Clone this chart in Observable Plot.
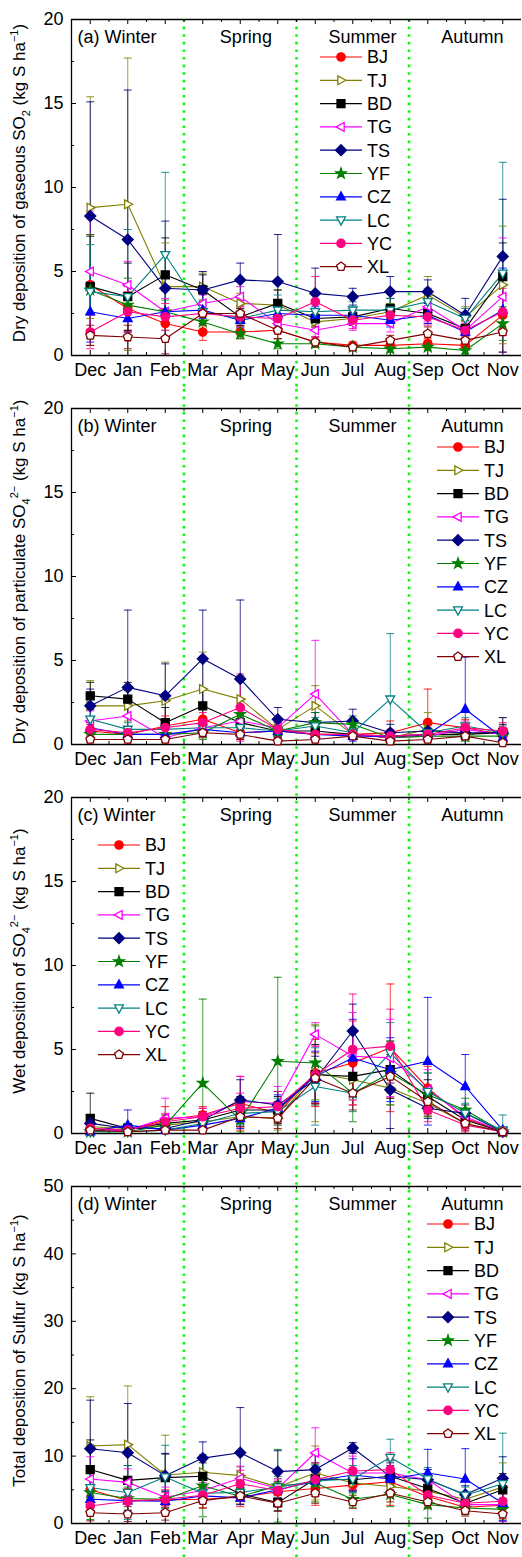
<!DOCTYPE html>
<html>
<head>
<meta charset="utf-8">
<script src="https://cdn.jsdelivr.net/npm/d3@7"></script>
<script src="https://cdn.jsdelivr.net/npm/@observablehq/plot@0.6"></script>
<style>
  html, body { margin: 0; padding: 0; background: white; }
  #chart > * { display: block; }
</style>
</head>
<body>
<div id="chart"></div>
<script>
// ---------- categories ----------
const months = ["Dec","Jan","Feb","Mar","Apr","May","Jun","Jul","Aug","Sep","Oct","Nov"];
const stations = ["BJ","TJ","BD","TG","TS","YF","CZ","LC","YC","XL"];
const seasons = ["Spring","Summer","Autumn"];

// ---------- (a) dry deposition of gaseous SO2 : mean and SD ----------
const gasBJ = [4.2, 2.8, 1.9, 1.4, 1.4, 1.5, 0.8, 0.6, 0.6, 0.7, 0.6, 2.4];
const gasBJsd = [3.0, 1.3, 0.9, 0.5, 0.4, 0.5, 0.3, 0.2, 0.2, 0.3, 0.3, 1.2];
const gasTJ = [8.8, 9.0, 4.1, 4.1, 3.1, 3.0, 2.0, 2.2, 2.6, 3.6, 2.3, 4.2];
const gasTJsd = [6.6, 8.7, 2.6, 0.8, 0.6, 0.9, 0.5, 0.4, 0.5, 1.1, 0.6, 3.5];
const gasBD = [4.1, 3.5, 4.8, 3.9, 2.3, 3.1, 2.2, 2.3, 2.8, 2.5, 1.6, 4.7];
const gasBDsd = [3.0, 2.0, 2.2, 0.9, 0.5, 0.8, 0.5, 0.5, 0.6, 0.6, 0.5, 2.0];
const gasTG = [5.0, 4.2, 2.6, 3.1, 3.5, 1.9, 1.5, 1.9, 1.9, 2.9, 1.5, 3.5];
const gasTGsd = [3.6, 1.4, 0.8, 0.5, 0.6, 0.5, 0.4, 0.4, 0.5, 0.9, 0.5, 3.5];
const gasTS = [8.3, 6.9, 4.0, 3.9, 4.5, 4.4, 3.7, 3.5, 3.8, 3.8, 2.4, 5.9];
const gasTSsd = [6.8, 8.9, 4.0, 1.1, 1.0, 2.8, 1.5, 0.5, 0.9, 0.7, 1.0, 3.4];
const gasYF = [3.9, 3.0, 2.6, 2.0, 1.3, 0.7, 0.7, 0.5, 0.4, 0.5, 0.3, 1.9];
const gasYFsd = [3.3, 1.6, 0.7, 0.5, 0.3, 0.3, 0.2, 0.2, 0.2, 0.2, 0.2, 1.0];
const gasCZ = [2.6, 2.2, 2.6, 2.7, 2.1, 2.5, 2.4, 2.4, 2.1, 2.4, 1.4, 2.7];
const gasCZsd = [1.8, 0.8, 1.5, 0.5, 0.4, 0.7, 0.5, 0.4, 0.4, 0.5, 0.4, 2.5];
const gasLC = [3.8, 3.5, 6.0, 2.6, 2.2, 2.7, 2.6, 2.7, 2.7, 3.2, 2.2, 4.9];
const gasLCsd = [2.8, 4.0, 4.9, 0.7, 0.5, 0.9, 0.6, 0.5, 0.7, 0.8, 0.6, 6.6];
const gasYC = [1.4, 2.6, 2.3, 2.5, 2.3, 2.2, 3.2, 2.1, 2.4, 2.3, 1.5, 2.6];
const gasYCsd = [1.0, 1.2, 0.8, 0.7, 0.6, 0.7, 1.5, 0.5, 0.6, 0.5, 0.4, 1.4];
const gasXL = [1.2, 1.1, 1.0, 2.5, 2.5, 1.5, 0.8, 0.5, 0.9, 1.3, 0.9, 1.4];
const gasXLsd = [0.6, 0.7, 0.9, 0.6, 0.5, 0.5, 0.3, 0.2, 0.3, 0.4, 0.3, 1.2];

// ---------- (b) dry deposition of particulate SO4 ----------
const parBJ = [0.8, 0.6, 1.1, 1.5, 0.7, 0.8, 0.6, 0.6, 0.7, 1.3, 1.0, 0.6];
const parBJsd = [0.4, 0.3, 0.6, 0.6, 0.4, 0.3, 0.3, 0.3, 0.7, 2.0, 0.5, 0.4];
const parTJ = [2.3, 2.3, 2.6, 3.3, 2.7, 0.9, 2.3, 0.6, 0.4, 0.9, 0.6, 0.8];
const parTJsd = [1.5, 0.9, 2.3, 2.2, 1.4, 0.4, 1.2, 0.3, 0.3, 1.0, 0.3, 0.8];
const parBD = [2.9, 2.7, 1.3, 2.3, 1.3, 0.8, 0.8, 0.6, 0.4, 0.6, 0.6, 0.7];
const parBDsd = [0.8, 1.0, 0.9, 1.0, 0.6, 0.4, 0.4, 0.3, 0.2, 0.3, 0.3, 0.5];
const parTG = [1.4, 1.7, 0.4, 1.0, 1.4, 1.0, 3.0, 0.6, 0.4, 0.5, 0.9, 0.6];
const parTGsd = [0.6, 0.7, 0.3, 0.5, 0.7, 0.4, 3.2, 0.3, 0.2, 0.3, 0.4, 0.4];
const parTS = [2.3, 3.4, 2.9, 5.1, 3.9, 1.5, 1.3, 1.4, 0.7, 0.8, 0.7, 0.7];
const parTSsd = [1.0, 4.6, 1.9, 2.9, 4.7, 0.7, 0.6, 0.7, 0.5, 0.6, 0.4, 0.9];
const parYF = [0.6, 0.6, 0.6, 0.7, 1.8, 0.8, 1.3, 1.2, 0.4, 0.5, 0.5, 0.5];
const parYFsd = [0.3, 0.3, 0.3, 0.4, 0.8, 0.3, 0.6, 0.5, 0.2, 0.3, 0.3, 0.3];
const parCZ = [1.0, 0.6, 0.6, 0.9, 0.7, 0.8, 0.6, 0.5, 0.5, 0.6, 2.1, 0.4];
const parCZsd = [0.6, 0.3, 0.3, 0.4, 0.3, 0.3, 0.3, 0.3, 0.3, 0.3, 3.1, 0.3];
const parLC = [1.5, 0.9, 0.9, 1.0, 1.0, 0.8, 1.1, 0.7, 2.7, 0.7, 1.1, 0.7];
const parLCsd = [0.6, 0.4, 0.4, 0.4, 0.5, 0.3, 0.5, 0.3, 3.9, 0.3, 0.5, 0.4];
const parYC = [0.9, 0.7, 1.0, 1.3, 2.2, 0.9, 0.6, 0.6, 0.5, 0.6, 1.0, 0.8];
const parYCsd = [0.4, 0.3, 0.4, 0.6, 2.0, 0.4, 0.3, 0.3, 0.3, 0.3, 0.4, 0.5];
const parXL = [0.3, 0.3, 0.3, 0.7, 0.6, 0.2, 0.3, 0.5, 0.2, 0.3, 0.5, 0.1];
const parXLsd = [0.2, 0.2, 0.2, 0.3, 0.3, 0.2, 0.2, 0.2, 0.1, 0.2, 0.2, 0.1];

// ---------- (c) wet deposition of SO4 ----------
const wetBJ = [0.3, 0.2, 0.8, 1.1, 1.8, 1.2, 3.6, 4.2, 5.1, 2.7, 0.9, 0.1];
const wetBJsd = [0.2, 0.1, 0.8, 0.5, 1.6, 0.7, 2.0, 2.5, 3.8, 1.3, 0.6, 0.1];
const wetTJ = [0.4, 0.3, 0.5, 0.7, 1.0, 0.9, 3.6, 3.2, 2.7, 1.8, 0.6, 0.1];
const wetTJsd = [0.3, 0.3, 0.4, 0.5, 0.6, 0.7, 2.9, 1.2, 1.0, 0.8, 0.4, 0.1];
const wetBD = [0.9, 0.3, 0.6, 0.8, 1.4, 1.4, 3.5, 3.4, 3.8, 2.2, 0.8, 0.1];
const wetBDsd = [1.5, 0.3, 0.5, 0.5, 0.8, 0.8, 1.8, 1.2, 1.7, 1.0, 0.5, 0.1];
const wetTG = [0.1, 0.2, 0.9, 1.0, 1.9, 1.8, 5.9, 4.6, 4.5, 2.6, 1.0, 0.1];
const wetTGsd = [0.1, 0.2, 1.2, 0.5, 1.5, 1.0, 0.7, 2.6, 2.3, 1.2, 0.5, 0.1];
const wetTS = [0.6, 0.3, 0.3, 0.8, 2.0, 1.7, 3.2, 6.1, 2.6, 1.5, 1.2, 0.1];
const wetTSsd = [0.4, 0.2, 0.2, 0.5, 1.2, 0.8, 1.4, 1.6, 2.3, 0.6, 0.5, 0.1];
const wetYF = [0.1, 0.1, 0.5, 3.0, 0.8, 4.3, 4.2, 2.4, 3.6, 2.3, 1.4, 0.1];
const wetYFsd = [0.1, 0.1, 0.4, 5.0, 0.7, 5.0, 2.2, 1.7, 1.9, 1.3, 0.7, 0.1];
const wetCZ = [0.1, 0.5, 0.2, 0.5, 0.9, 1.5, 3.4, 4.5, 3.8, 4.3, 2.8, 0.2];
const wetCZsd = [0.1, 0.9, 0.2, 0.4, 0.6, 0.8, 1.5, 2.3, 1.9, 3.8, 1.9, 0.1];
const wetLC = [0.1, 0.1, 0.2, 0.6, 1.2, 1.3, 2.8, 2.4, 4.8, 2.5, 1.2, 0.2];
const wetLCsd = [0.1, 0.1, 0.2, 0.4, 0.7, 0.8, 2.3, 1.1, 1.8, 1.1, 0.6, 0.9];
const wetYC = [0.3, 0.2, 0.7, 1.0, 1.5, 1.6, 3.5, 5.0, 5.2, 1.4, 0.5, 0.1];
const wetYCsd = [0.2, 0.1, 0.5, 0.5, 0.9, 0.9, 1.7, 3.3, 2.2, 0.7, 0.4, 0.1];
const wetXL = [0.2, 0.1, 0.2, 0.2, 1.0, 0.9, 3.3, 2.4, 3.4, 1.9, 0.6, 0.1];
const wetXLsd = [0.1, 0.1, 0.2, 0.2, 0.6, 0.6, 1.5, 1.0, 1.3, 0.8, 0.4, 0.1];

// ---------- (d) total deposition of sulfur ----------
const totBJ = [5.0, 3.4, 3.5, 3.6, 3.9, 4.7, 5.2, 5.7, 6.2, 4.0, 2.4, 2.7];
const totBJsd = [3.5, 1.8, 1.5, 1.3, 1.4, 1.3, 2.5, 2.2, 3.5, 1.6, 0.9, 2.0];
const totTJ = [11.5, 11.7, 7.2, 7.6, 7.1, 5.4, 7.5, 6.0, 5.5, 4.8, 3.6, 5.4];
const totTJsd = [7.3, 8.7, 5.9, 2.0, 1.3, 1.3, 4.0, 1.5, 1.3, 1.6, 0.9, 3.6];
const totBD = [8.0, 6.4, 6.8, 7.0, 4.4, 3.1, 6.6, 6.5, 7.0, 5.2, 3.0, 5.0];
const totBDsd = [4.4, 2.2, 3.5, 2.0, 0.9, 1.2, 2.4, 1.6, 2.3, 1.5, 0.8, 2.4];
const totTG = [6.6, 6.1, 3.9, 4.9, 6.7, 5.2, 10.5, 7.5, 7.5, 6.5, 2.8, 2.8];
const totTGsd = [3.3, 2.0, 1.5, 1.2, 1.8, 1.4, 3.7, 2.5, 2.6, 1.5, 0.9, 2.5];
const totTS = [11.1, 10.5, 7.1, 9.7, 10.5, 7.7, 8.0, 11.2, 7.0, 6.5, 4.3, 6.7];
const totTSsd = [7.2, 7.3, 3.3, 2.4, 6.7, 3.1, 2.3, 0.8, 2.0, 1.5, 1.3, 3.2];
const totYF = [4.6, 3.7, 3.6, 5.6, 4.0, 5.6, 6.0, 3.6, 4.3, 2.8, 2.3, 2.1];
const totYFsd = [4.0, 1.7, 1.2, 4.6, 1.2, 5.4, 2.8, 1.2, 1.8, 2.0, 1.0, 1.6];
const totCZ = [3.6, 3.4, 3.3, 4.1, 3.8, 5.0, 6.3, 7.2, 6.6, 7.5, 6.6, 3.0];
const totCZsd = [2.0, 1.5, 1.5, 1.0, 1.0, 1.2, 2.0, 2.4, 2.0, 3.5, 4.5, 2.6];
const totLC = [5.3, 4.6, 6.9, 4.5, 4.6, 5.4, 6.3, 6.6, 9.8, 6.6, 4.2, 5.9];
const totLCsd = [3.3, 4.0, 4.7, 1.2, 1.1, 1.6, 2.3, 2.0, 2.7, 1.7, 1.2, 7.5];
const totYC = [2.6, 3.3, 3.6, 4.2, 5.9, 4.9, 6.5, 7.8, 8.0, 4.2, 3.0, 3.3];
const totYCsd = [1.5, 1.6, 1.0, 1.2, 2.0, 1.4, 2.5, 2.8, 2.5, 1.2, 0.9, 2.0];
const totXL = [1.6, 1.4, 1.6, 3.4, 4.1, 3.0, 4.5, 3.2, 4.5, 3.2, 1.9, 1.4];
const totXLsd = [1.2, 1.1, 1.1, 1.1, 1.2, 1.2, 1.5, 1.0, 1.3, 1.0, 0.8, 1.4];

// ---------- styles ----------
const colors = {BJ:"#ff0000", TJ:"#808000", BD:"#000000", TG:"#ff00ff", TS:"#000080",
                YF:"#008000", CZ:"#0000ff", LC:"#008080", YC:"#ff0080", XL:"#800000"};
const openMarker = {TJ:true, TG:true, LC:true, XL:true};

const rad = s => Math.sqrt(s / Math.PI);
const poly = (pts) => ({draw(c, s) { const r = rad(s); pts.forEach(([x, y], i) => i ? c.lineTo(x * r, y * r) : c.moveTo(x * r, y * r)); c.closePath(); }});
const starPts = d3.range(10).map(i => {
  const a = -Math.PI / 2 + i * Math.PI / 5, rr = i % 2 ? 0.5 : 1.3;
  return [rr * Math.cos(a), rr * Math.sin(a)];
});
const symbols = {
  BJ: {draw(c, s) { const r = rad(s); c.moveTo(r, 0); c.arc(0, 0, r, 0, 2 * Math.PI); }},
  TJ: poly([[1.15, 0], [-0.75, -1.05], [-0.75, 1.05]]),
  BD: poly([[-0.95, -0.95], [0.95, -0.95], [0.95, 0.95], [-0.95, 0.95]]),
  TG: poly([[-1.15, 0], [0.75, -1.05], [0.75, 1.05]]),
  TS: poly([[0, -1.3], [1.3, 0], [0, 1.3], [-1.3, 0]]),
  YF: poly(starPts),
  CZ: poly([[0, -1.2], [1.05, 0.75], [-1.05, 0.75]]),
  LC: poly([[0, 1.2], [1.05, -0.75], [-1.05, -0.75]]),
  YC: {draw(c, s) { const r = rad(s); c.moveTo(r, 0); c.arc(0, 0, r, 0, 2 * Math.PI); }},
  XL: poly(d3.range(5).map(i => { const a = -Math.PI / 2 + i * 2 * Math.PI / 5; return [1.1 * Math.cos(a), 1.1 * Math.sin(a)]; }))
};

// ---------- layout ----------
const W = 522, ML = 71, MR = 1, MT = 19, MB = 34;
const FONT = "'Liberation Sans', Arial, Helvetica, sans-serif";
const seasonX = {Spring: 4.15, Summer: 7.26, Autumn: 10.19};

const panels = [
  {tag: "(a)", height: 389, ymax: 20, major: 5, minor: 2.5,
   vals: {BJ:gasBJ,TJ:gasTJ,BD:gasBD,TG:gasTG,TS:gasTS,YF:gasYF,CZ:gasCZ,LC:gasLC,YC:gasYC,XL:gasXL},
   sds: {BJ:gasBJsd,TJ:gasTJsd,BD:gasBDsd,TG:gasTGsd,TS:gasTSsd,YF:gasYFsd,CZ:gasCZsd,LC:gasLCsd,YC:gasYCsd,XL:gasXLsd},
   title: [["Dry deposition of gaseous SO"], ["2", "sub"], [" (kg S ha"], ["\u22121", "sup"], [")"]],
   legend: [320, 57], first: true},
  {tag: "(b)", height: 389, ymax: 20, major: 5, minor: 2.5,
   vals: {BJ:parBJ,TJ:parTJ,BD:parBD,TG:parTG,TS:parTS,YF:parYF,CZ:parCZ,LC:parLC,YC:parYC,XL:parXL},
   sds: {BJ:parBJsd,TJ:parTJsd,BD:parBDsd,TG:parTGsd,TS:parTSsd,YF:parYFsd,CZ:parCZsd,LC:parLCsd,YC:parYCsd,XL:parXLsd},
   title: [["Dry deposition of particulate SO"], ["4", "sub"], ["2\u2212", "sup"], [" (kg S ha"], ["\u22121", "sup"], [")"]],
   legend: [437, 58]},
  {tag: "(c)", height: 389, ymax: 20, major: 5, minor: 2.5,
   vals: {BJ:wetBJ,TJ:wetTJ,BD:wetBD,TG:wetTG,TS:wetTS,YF:wetYF,CZ:wetCZ,LC:wetLC,YC:wetYC,XL:wetXL},
   sds: {BJ:wetBJsd,TJ:wetTJsd,BD:wetBDsd,TG:wetTGsd,TS:wetTSsd,YF:wetYFsd,CZ:wetCZsd,LC:wetLCsd,YC:wetYCsd,XL:wetXLsd},
   title: [["Wet deposition of SO"], ["4", "sub"], ["2\u2212", "sup"], [" (kg S ha"], ["\u22121", "sup"], [")"]],
   legend: [98, 67]},
  {tag: "(d)", height: 390, ymax: 50, major: 10, minor: 5,
   vals: {BJ:totBJ,TJ:totTJ,BD:totBD,TG:totTG,TS:totTS,YF:totYF,CZ:totCZ,LC:totLC,YC:totYC,XL:totXL},
   sds: {BJ:totBJsd,TJ:totTJsd,BD:totBDsd,TG:totTGsd,TS:totTSsd,YF:totYFsd,CZ:totCZsd,LC:totLCsd,YC:totYCsd,XL:totXLsd},
   title: [["Total deposition of Sulfur (kg S ha"], ["\u22121", "sup"], [")"]],
   legend: [427, 57]}
];

function legendMark(pos) {
  return (index, scales, values, dims) => {
    const g = d3.create("svg:g");
    const [lx, ly] = pos;
    stations.forEach((s, i) => {
      const y = ly + i * 23.3;
      g.append("line").attr("x1", lx).attr("x2", lx + 42).attr("y1", y).attr("y2", y)
        .attr("stroke", colors[s]).attr("stroke-width", 1.2);
      g.append("path").attr("d", d3.symbol(symbols[s], Math.PI * 4.2 * 4.2)())
        .attr("transform", `translate(${lx + 21},${y})`)
        .attr("fill", openMarker[s] ? "white" : colors[s]).attr("stroke", colors[s]).attr("stroke-width", 1.3);
      g.append("text").attr("x", lx + 47).attr("y", y).attr("dy", "0.36em")
        .attr("text-anchor", "start")
        .attr("font-size", 18).attr("font-family", FONT).attr("fill", "black").text(s);
    });
    return g.node();
  };
}

function titleMark(parts) {
  return (index, scales, values, dims) => {
    const cy = dims.marginTop + (dims.height - dims.marginTop - dims.marginBottom) / 2 - 4;
    const t = d3.create("svg:text")
      .attr("transform", `translate(25,${cy}) rotate(-90)`)
      .attr("text-anchor", "middle").attr("font-size", 17).attr("font-family", FONT).attr("fill", "black");
    let shift = 0;
    parts.forEach(([txt, kind]) => {
      const target = kind === "sub" ? 5 : kind === "sup" ? -7 : 0;
      const ts = t.append("tspan").attr("dy", target - shift).text(txt);
      if (kind) ts.attr("font-size", 11);
      shift = target;
    });
    return t.node();
  };
}

const chart = document.getElementById("chart");
panels.forEach(p => {
  const H = p.height;
  const frameH = H - MT - MB, frameW = W - ML - MR;
  const ky = p.ymax / frameH, kx = 12 / frameW;
  const rows = [];
  stations.forEach(s => months.forEach((mo, m) => {
    rows.push({s, m, v: p.vals[s][m], e: p.sds[s][m], c: colors[s]});
  }));
  const monthIdx = d3.range(12);
  const halfIdx = d3.range(11).map(i => i + 0.5);
  const yMajor = d3.range(0, p.ymax + 0.001, p.major);
  const yMinor = d3.range(p.minor, p.ymax, p.major);
  const topY = p.first ? p.ymax : p.ymax + MT * ky;
  const botY = -MB * ky;
  const cap = 4 * kx;

  const marks = [
    Plot.ruleX([2.5, 5.5, 8.5], {x: d => d, y1: topY, y2: botY, stroke: "#00ff00", strokeWidth: 2.6, strokeDasharray: "2.6,5"}),
    Plot.ruleY([0, p.ymax], {stroke: "black", strokeWidth: 1.3}),
    Plot.ruleX([-0.5], {stroke: "black", strokeWidth: 1.3}),
    Plot.ruleX(monthIdx, {x: d => d, y1: 0, y2: 5 * ky, stroke: "black"}),
    Plot.ruleX(halfIdx, {x: d => d, y1: 0, y2: 3 * ky, stroke: "black"}),
    Plot.ruleX(monthIdx, {x: d => d, y1: p.ymax, y2: p.ymax - 5 * ky, stroke: "black"}),
    Plot.ruleX(halfIdx, {x: d => d, y1: p.ymax, y2: p.ymax - 3 * ky, stroke: "black"}),
    Plot.ruleY(yMajor, {y: d => d, x1: -0.5, x2: -0.5 + 5 * kx, stroke: "black"}),
    Plot.ruleY(yMinor, {y: d => d, x1: -0.5, x2: -0.5 + 3 * kx, stroke: "black"}),
    Plot.axisX(monthIdx, {tickFormat: i => months[i], tickSize: 0, tickPadding: 8, fontSize: 18, label: null}),
    Plot.axisY(yMajor, {tickSize: 0, tickPadding: 8, fontSize: 18, label: null}),
    Plot.ruleX(rows, {x: "m", y1: d => Math.max(0, d.v - d.e), y2: d => d.v + d.e, stroke: "c", strokeOpacity: 0.75}),
    Plot.link(rows, {x1: d => d.m - cap, x2: d => d.m + cap, y1: d => d.v + d.e, y2: d => d.v + d.e, stroke: "c", strokeOpacity: 0.85}),
    Plot.link(rows.filter(d => d.v - d.e > 0), {x1: d => d.m - cap, x2: d => d.m + cap, y1: d => d.v - d.e, y2: d => d.v - d.e, stroke: "c", strokeOpacity: 0.85}),
    Plot.line(rows, {x: "m", y: "v", z: "s", stroke: "c", strokeWidth: 1.1}),
    ...stations.map(s => Plot.dot(rows.filter(d => d.s === s), {
      x: "m", y: "v", r: 4.2, symbol: symbols[s],
      fill: openMarker[s] ? "white" : colors[s], stroke: colors[s], strokeWidth: 1.3
    })),
    Plot.text([p.tag + " Winter"], {x: -0.5, frameAnchor: "top", lineAnchor: "middle", dx: 6, dy: 18, textAnchor: "start", fontSize: 18, fill: "black"}),
    Plot.text(seasons, {x: d => seasonX[d], text: d => d, frameAnchor: "top", lineAnchor: "middle", dy: 18, fontSize: 18, fill: "black"}),
    legendMark(p.legend),
    titleMark(p.title)
  ];

  const svg = Plot.plot({
    width: W, height: H,
    marginLeft: ML, marginRight: MR, marginTop: MT, marginBottom: MB,
    x: {domain: [-0.5, 11.5], axis: null},
    y: {domain: [0, p.ymax], axis: null},
    color: {type: "identity"},
    style: {fontFamily: FONT, fontSize: "18px", color: "black", background: "white", overflow: "visible"},
    marks
  });
  chart.appendChild(svg);
});
</script>
</body>
</html>
